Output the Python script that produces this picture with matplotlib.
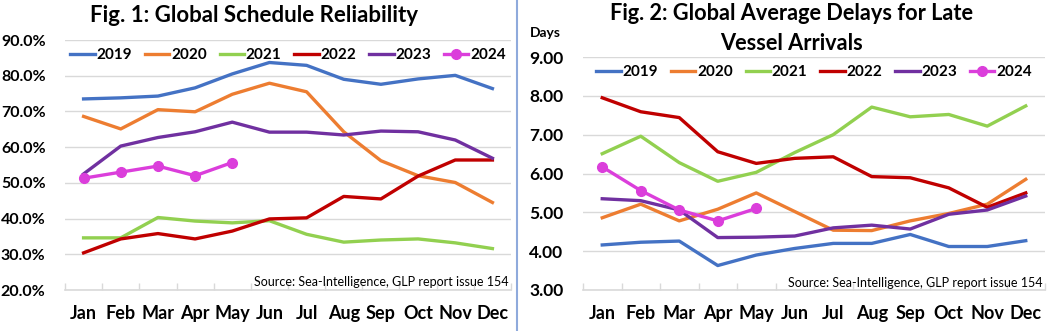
import matplotlib
matplotlib.use("Agg")
import matplotlib.pyplot as plt
from matplotlib.lines import Line2D
import numpy as np

plt.rcParams['font.family'] = ['Lato', 'DejaVu Sans']

months = ["Jan", "Feb", "Mar", "Apr", "May", "Jun", "Jul", "Aug", "Sep", "Oct", "Nov", "Dec"]
years = ["2019", "2020", "2021", "2022", "2023", "2024"]
colors = ["#4472C4", "#ED7D31", "#92D050", "#C00000", "#7030A0", "#DB3EDB"]

# Fig 1: schedule reliability (%)
rel_2019 = [73.5, 73.8, 74.3, 76.6, 80.5, 83.7, 82.9, 79.0, 77.6, 79.1, 80.1, 76.4]
rel_2020 = [68.6, 65.1, 70.5, 69.9, 74.8, 77.9, 75.5, 64.3, 56.2, 52.0, 50.1, 44.5]
rel_2021 = [34.6, 34.6, 40.3, 39.3, 38.8, 39.4, 35.6, 33.4, 34.0, 34.3, 33.2, 31.6]
rel_2022 = [30.4, 34.3, 35.8, 34.3, 36.5, 39.9, 40.2, 46.2, 45.5, 51.9, 56.4, 56.4]
rel_2023 = [52.5, 60.3, 62.7, 64.3, 67.0, 64.2, 64.2, 63.4, 64.5, 64.3, 62.0, 56.9]
rel_2024 = [51.3, 53.0, 54.7, 52.0, 55.7]

# Fig 2: average delays for late vessel arrivals (days)
del_2019 = [4.16, 4.23, 4.26, 3.63, 3.90, 4.07, 4.20, 4.20, 4.43, 4.12, 4.12, 4.27]
del_2020 = [4.86, 5.21, 4.78, 5.08, 5.50, 5.02, 4.54, 4.53, 4.78, 4.97, 5.21, 5.85]
del_2021 = [6.51, 6.96, 6.28, 5.80, 6.03, 6.54, 7.00, 7.71, 7.46, 7.52, 7.22, 7.74]
del_2022 = [7.95, 7.59, 7.44, 6.56, 6.26, 6.39, 6.43, 5.92, 5.89, 5.63, 5.13, 5.50]
del_2023 = [5.35, 5.30, 5.06, 4.35, 4.36, 4.39, 4.60, 4.67, 4.57, 4.95, 5.06, 5.42]
del_2024 = [6.17, 5.56, 5.06, 4.78, 5.10]

rel_series = [rel_2019, rel_2020, rel_2021, rel_2022, rel_2023, rel_2024]
del_series = [del_2019, del_2020, del_2021, del_2022, del_2023, del_2024]

W, H = 1050, 331
fig = plt.figure(figsize=(W / 100, H / 100), dpi=100)

def box(l, r, t, b):
    return [l / W, 1 - b / H, (r - l) / W, (b - t) / H]

ax1 = fig.add_axes(box(65, 511, 40, 290))
ax2 = fig.add_axes(box(583, 1045, 57, 290))

source = "Source: Sea-Intelligence, GLP report issue 154"

def style(ax, series, ylim, yticks, fmt, ysize):
    x = np.arange(len(months))
    handles = []
    for yr, vals, c in zip(years, series, colors):
        if yr == "2024":
            h, = ax.plot(x[:len(vals)], vals, color=c, lw=2.4, marker='o', ms=7, zorder=4)
        else:
            h, = ax.plot(x[:len(vals)], vals, color=c, lw=2.4, zorder=3)
        handles.append(h)
    ax.set_xlim(-0.5, 11.5)
    ax.set_ylim(*ylim)
    ax.set_yticks(yticks)
    ax.set_yticklabels([fmt(v) for v in yticks])
    ax.set_xticks(x)
    ax.set_xticklabels(months)
    ax.set_xticks(np.arange(-0.5, 12, 1), minor=True)
    ax.tick_params(axis='x', which='major', length=0, pad=11, labelsize=13)
    ax.tick_params(axis='x', which='minor', length=5, direction='in', color='#D9D9D9', width=1)
    ax.tick_params(axis='y', length=0, pad=14, labelsize=ysize)
    for lab in ax.get_xticklabels() + ax.get_yticklabels():
        lab.set_fontweight('bold')
    for s in ['top', 'right', 'left']:
        ax.spines[s].set_visible(False)
    ax.spines['bottom'].set_color('#D9D9D9')
    ax.spines['bottom'].set_linewidth(1.2)
    ax.grid(axis='y', color='#D9D9D9', lw=1, zorder=0)
    ax.set_axisbelow(True)
    ax.text(0.995, 0.03, source, transform=ax.transAxes, ha='right', va='center', fontsize=9)
    leg = ax.legend(handles, years, ncol=6, loc='upper center', bbox_to_anchor=(0.5, 1.0),
                    frameon=False, handlelength=1.6, handletextpad=0.1, columnspacing=0.85,
                    prop={'weight': 'bold', 'size': 11}, borderaxespad=0.15)
    return leg

style(ax1, rel_series, (20, 90), list(range(20, 91, 10)), lambda v: f"{v:.1f}%", 11.5)
style(ax2, del_series, (3, 9), list(range(3, 10)), lambda v: f"{v:.2f}", 12.5)

fig.text(254 / W, 1 - 15 / H, "Fig. 1: Global Schedule Reliability", ha='center', va='center',
         fontsize=16, fontweight='bold')
fig.text(792 / W, 1 - 14 / H, "Fig. 2: Global Average Delays for Late", ha='center', va='center',
         fontsize=15.7, fontweight='bold')
fig.text(792 / W, 1 - 43 / H, "Vessel Arrivals", ha='center', va='center',
         fontsize=15.7, fontweight='bold')
fig.text(530 / W, 1 - 33 / H, "Days", ha='left', va='center', fontsize=10, fontweight='bold')

fig.add_artist(Line2D([517 / W, 517 / W], [0, 1], transform=fig.transFigure,
                      color='#8FAADC', lw=1.5))

fig.savefig("out.png", dpi=100)
